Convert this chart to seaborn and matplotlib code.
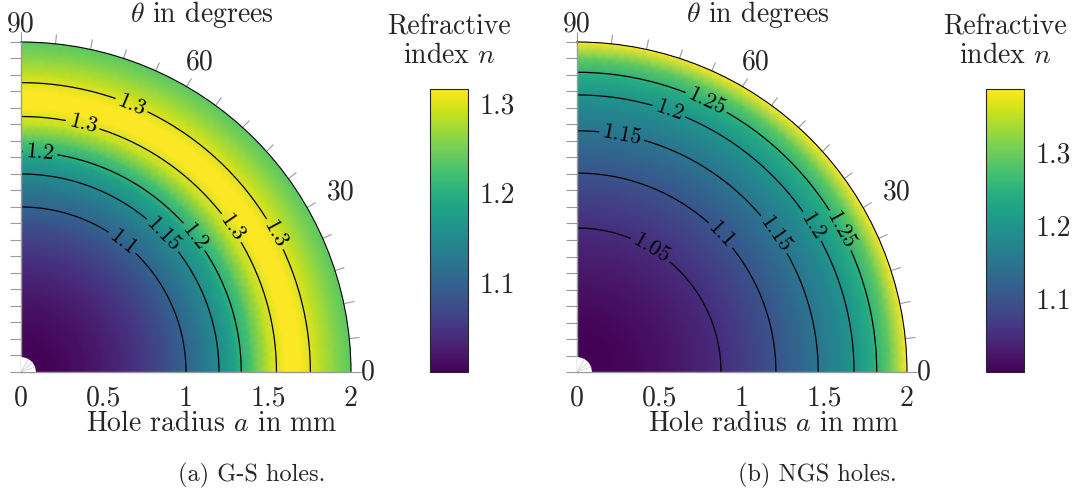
import numpy as np
import matplotlib
matplotlib.use("Agg")
import matplotlib.pyplot as plt
from matplotlib.ticker import MultipleLocator
import seaborn as sns

# radial samples (mm) and refractive index
radius_mm = [0.0, 0.1, 0.2, 0.3, 0.4, 0.5, 0.6, 0.7, 0.8, 0.9, 1.0,
             1.1, 1.2, 1.3, 1.4, 1.5, 1.6, 1.7, 1.8, 1.9, 2.0]
n_gs = [1.000, 1.001, 1.004, 1.009, 1.016, 1.024, 1.034, 1.046, 1.061, 1.079, 1.100,
        1.124, 1.150, 1.185, 1.228, 1.285, 1.316, 1.314, 1.288, 1.260, 1.235]
n_ngs = [1.000, 1.001, 1.003, 1.006, 1.011, 1.017, 1.024, 1.033, 1.042, 1.053, 1.067,
         1.083, 1.099, 1.117, 1.137, 1.158, 1.181, 1.205, 1.241, 1.295, 1.387]

levels_gs = [1.1, 1.15, 1.2, 1.3]
levels_ngs = [1.05, 1.1, 1.15, 1.2, 1.25]

# contour label spots (degrees, mm)
labels_gs = [(67.5, 1.75), (28.5, 1.75), (76, 1.55), (34.4, 1.55),
             (85, 1.34), (38, 1.34), (44, 1.2), (52, 1.0)]
labels_ngs = [(64.4, 1.82), (28.3, 1.82), (70.6, 1.68), (31.8, 1.68),
              (79.3, 1.47), (34.9, 1.47), (43.6, 1.21), (59, 0.875)]

r_ticks = [0, 0.5, 1, 1.5, 2]
r_ticklabels = ["0", "0.5", "1", "1.5", "2"]
theta_ticks = list(range(0, 91, 6))
# labelled angles and where their text sits (degrees, mm)
theta_label_spots = [(0, 0.0, 2.10), (30, 29.3, 2.22), (60, 60.0, 2.17), (90, 90.0, 2.11)]
cbar_ticks = [1.1, 1.2, 1.3]

sns.set_style("white")
plt.rcParams["font.family"] = "cmr10"
plt.rcParams["mathtext.fontset"] = "cm"
plt.rcParams["axes.formatter.use_mathtext"] = True
plt.rcParams["axes.unicode_minus"] = False

cmap = sns.color_palette("viridis", as_cmap=True)
GRAY = "#9a9a9a"

W, H = 1074, 494
fig = plt.figure(figsize=(W / 100, H / 100), dpi=100)


def px(x, y, w, h):
    return [x / W, (H - y - h) / H, w / W, h / H]


def panel(ox, n_vals, levels, label_spots, cbx, caption, dx_title, dx_label, caption_x):
    theta = np.deg2rad(np.arange(0, 90.5, 2.0))
    T, R = np.meshgrid(theta, radius_mm)
    N = np.repeat(np.array(n_vals)[:, None], len(theta), axis=1)

    ax = fig.add_axes(px(ox, 42, 330, 330), projection="polar")
    ax.set_thetamin(0)
    ax.set_thetamax(90)
    # drawn twice so the seams between gouraud triangles disappear
    for _ in range(2):
        mesh = ax.pcolormesh(T, R, N, cmap=cmap, shading="gouraud")
    cs = ax.contour(T, R, N, levels=levels, colors="black", linewidths=0.9)
    ax.clabel(cs, fmt=lambda v: f"{v:g}", fontsize=16, inline=True,
              inline_spacing=3,
              manual=[(np.deg2rad(a), r) for a, r in label_spots])

    # little blank spot at the origin
    ax.bar(np.pi / 4, 0.09, width=np.pi / 2, bottom=0, color="white",
           edgecolor="none", zorder=3)
    for a in (20, 40, 60):
        ax.plot([np.deg2rad(a)] * 2, [0, 0.09], color="#d0d0d0", lw=0.6, zorder=4)

    ax.set_ylim(0, 2)
    ax.grid(False)
    ax.set_xticks(np.deg2rad(theta_ticks), [""] * len(theta_ticks))
    ax.tick_params(axis="x", bottom=False, top=True, direction="out", length=7,
                   width=0.8, color=GRAY)
    for lab, a, r in theta_label_spots:
        ax.text(np.deg2rad(a), r, str(lab), ha="center", va="center",
                fontsize=20, clip_on=False)
    ax.set_yticks(r_ticks, r_ticklabels)
    ax.yaxis.set_minor_locator(MultipleLocator(0.1))
    ax.tick_params(axis="y", which="both", left=False, right=True,
                   labelleft=True, labelright=False, direction="out",
                   length=8, width=0.8, color=GRAY, labelsize=20, pad=1.5)
    ax.spines["polar"].set_color("black")
    ax.spines["polar"].set_linewidth(0.8)
    for s in ("start", "end"):
        ax.spines[s].set_color(GRAY)
        ax.spines[s].set_linewidth(1.0)

    cax = fig.add_axes(px(cbx, 89, 38, 283))
    cb = fig.colorbar(mesh, cax=cax)
    cb.set_ticks(cbar_ticks, labels=[f"{t:g}" for t in cbar_ticks])
    cax.minorticks_off()
    cax.tick_params(axis="y", direction="in", left=True, right=True,
                    labelleft=False, labelright=True, length=8, width=0.8,
                    color=GRAY, labelsize=20, pad=8)
    cb.outline.set_linewidth(0.8)

    fig.text((ox + dx_title) / W, 1 - 15 / H, r"$\theta$ in degrees",
             ha="center", va="center", fontsize=20)
    fig.text((ox + dx_label) / W, 1 - 424 / H, r"Hole radius $a$ in mm",
             ha="center", va="center", fontsize=20)
    fig.text((cbx + 19) / W, 1 - 41.5 / H, "Refractive\nindex $n$",
             ha="center", va="center", fontsize=20, linespacing=1.1,
             multialignment="center")
    fig.text(caption_x / W, 1 - 475 / H, caption, ha="center", va="center",
             fontsize=17.5)


panel(21, n_gs, levels_gs, labels_gs, 430, "(a) G-S holes.", 181, 191, 252)
panel(577, n_ngs, levels_ngs, labels_ngs, 986, "(b) NGS holes.", 181, 197, 817)

fig.savefig("out.png", dpi=100)
